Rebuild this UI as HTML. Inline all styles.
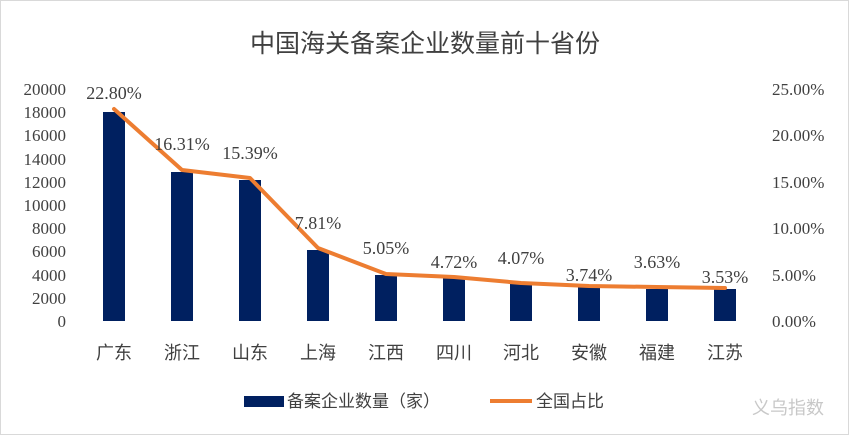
<!DOCTYPE html>
<html><head><meta charset="utf-8"><style>
body{margin:0;background:#fff;}
svg{display:block;}
</style></head><body>
<svg width="849" height="435" xmlns="http://www.w3.org/2000/svg">
<rect x="0.5" y="0.5" width="848" height="434" fill="#fff" stroke="#d9d9d9"/>
<text x="425" y="52" text-anchor="middle" font-family="'Liberation Sans','Noto Sans CJK SC',sans-serif" font-size="25" fill="#404040">中国海关备案企业数量前十省份</text>
<g font-family="'Liberation Serif',serif" font-size="17" fill="#404040" text-anchor="end">
<text x="66" y="95">20000</text><text x="66" y="118">18000</text><text x="66" y="141">16000</text>
<text x="66" y="165">14000</text><text x="66" y="188">12000</text><text x="66" y="211">10000</text>
<text x="66" y="234">8000</text><text x="66" y="257">6000</text><text x="66" y="281">4000</text>
<text x="66" y="304">2000</text><text x="66" y="327">0</text>
</g>
<g font-family="'Liberation Serif',serif" font-size="17" fill="#404040">
<text x="772" y="95">25.00%</text><text x="772" y="141">20.00%</text><text x="772" y="188">15.00%</text>
<text x="772" y="234">10.00%</text><text x="772" y="281">5.00%</text><text x="772" y="327">0.00%</text>
</g>
<g fill="#002060">
<rect x="103" y="112" width="22" height="209"/>
<rect x="171" y="172" width="22" height="149"/>
<rect x="239" y="180" width="22" height="141"/>
<rect x="307" y="250" width="22" height="71"/>
<rect x="375" y="275" width="22" height="46"/>
<rect x="443" y="278" width="22" height="43"/>
<rect x="510" y="284" width="22" height="37"/>
<rect x="578" y="287" width="22" height="34"/>
<rect x="646" y="289" width="22" height="32"/>
<rect x="714" y="289" width="22" height="32"/>
</g>
<polyline fill="none" stroke="#ed7d31" stroke-width="4" stroke-linejoin="round" stroke-linecap="round"
points="114,109 182,170 250,178 318,248 386,274 454,277 521,283 589,286 657,287 725,288"/>
<g font-family="'Liberation Serif',serif" font-size="18" fill="#404040" text-anchor="middle">
<text x="114" y="99">22.80%</text><text x="182" y="150">16.31%</text><text x="250" y="159">15.39%</text>
<text x="318" y="229">7.81%</text><text x="386" y="254">5.05%</text><text x="454" y="268">4.72%</text>
<text x="521" y="264">4.07%</text><text x="589" y="281">3.74%</text><text x="657" y="268">3.63%</text>
<text x="725" y="283">3.53%</text>
</g>
<g font-family="'Liberation Sans','Noto Sans CJK SC',sans-serif" font-size="18" fill="#404040" text-anchor="middle">
<text x="114" y="359">广东</text><text x="182" y="359">浙江</text><text x="250" y="359">山东</text>
<text x="318" y="359">上海</text><text x="386" y="359">江西</text><text x="454" y="359">四川</text>
<text x="521" y="359">河北</text><text x="589" y="359">安徽</text><text x="657" y="359">福建</text>
<text x="725" y="359">江苏</text>
</g>
<rect x="244" y="396" width="40" height="11" fill="#002060"/>
<text x="287" y="407" font-family="'Liberation Sans','Noto Sans CJK SC',sans-serif" font-size="17" fill="#404040">备案企业数量（家）</text>
<line x1="490" y1="401" x2="532" y2="401" stroke="#ed7d31" stroke-width="4"/>
<text x="536" y="407" font-family="'Liberation Sans','Noto Sans CJK SC',sans-serif" font-size="17" fill="#404040">全国占比</text>
<text x="752" y="414" font-family="'Liberation Sans','Noto Sans CJK SC',sans-serif" font-size="18" fill="#c8c8c8">义乌指数</text>
</svg>
</body></html>
